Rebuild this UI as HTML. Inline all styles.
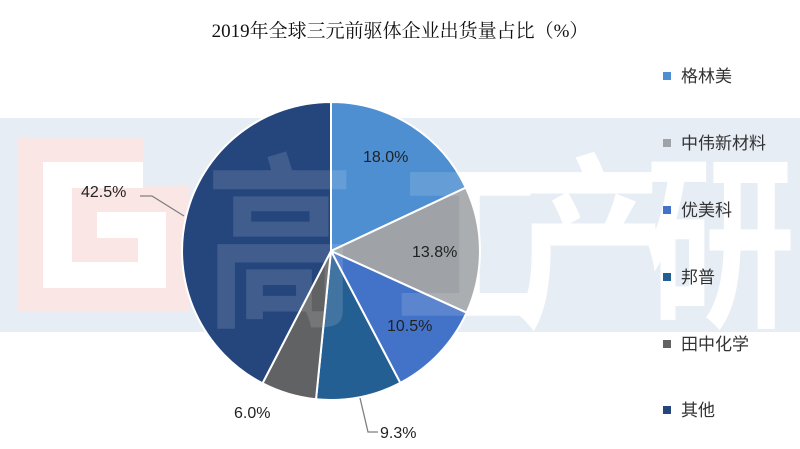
<!DOCTYPE html>
<html><head><meta charset="utf-8"><style>
body{margin:0;background:#fff;}
svg{display:block;font-family:"Liberation Sans","Noto Sans CJK SC",sans-serif;}
</style></head><body>
<svg width="800" height="449" viewBox="0 0 800 449">
<rect width="800" height="449" fill="#fff"/>
<rect x="0" y="118" width="800" height="214" fill="#e7edf4"/>
<!-- G logo -->
<rect x="17" y="138" width="126" height="174" fill="#fbe6e6"/>
<rect x="143" y="185" width="47" height="127" fill="#fbe6e6"/>
<g fill="#fff">
<rect x="43" y="162" width="100" height="26"/>
<rect x="43" y="188" width="29" height="100"/>
<rect x="72" y="262" width="94" height="26"/>
<rect x="138" y="212" width="28" height="50"/>
<rect x="97" y="212" width="41" height="26"/>
</g>
<!-- watermark behind pie -->
<g fill="#fff" font-size="150" font-weight="bold">
<text transform="translate(395,312) scale(1,1.25)">工</text>
<text transform="translate(515,312) scale(1,1.25)">产</text>
<text transform="translate(645,312) scale(1,1.25)">研</text>
</g>
<g stroke="#fff" stroke-width="2" stroke-linejoin="round">
<path d="M331 251 L331 102 A149 149 0 0 1 465.8 187.6 Z" fill="#4e8fd2"/>
<path d="M331 251 L465.8 187.6 A149 149 0 0 1 466.6 312.7 Z" fill="#9fa2a6"/>
<path d="M331 251 L466.6 312.7 A149 149 0 0 1 400.3 382.9 Z" fill="#4373c8"/>
<path d="M331 251 L400.3 382.9 A149 149 0 0 1 316.0 399.3 Z" fill="#245f93"/>
<path d="M331 251 L316.0 399.3 A149 149 0 0 1 262.5 383.3 Z" fill="#606264"/>
<path d="M331 251 L262.5 383.3 A149 149 0 0 1 331 102 Z" fill="#25457d"/>
</g>
<!-- faint watermark over pie -->
<g fill="#fff" opacity="0.13" font-size="150" font-weight="bold">
<text transform="translate(205,312) scale(1,1.25)">高</text>
<text transform="translate(395,312) scale(1,1.25)">工</text>
</g>
<polyline points="140,196 152,196 184,216" fill="none" stroke="#7f7f7f" stroke-width="1.3"/>
<polyline points="360,398 368,432 378,432" fill="none" stroke="#7f7f7f" stroke-width="1.3"/>
<g font-size="16" fill="#222">
<text x="363" y="162">18.0%</text>
<text x="412" y="257">13.8%</text>
<text x="387" y="331">10.5%</text>
<text x="81" y="197">42.5%</text>
<text x="234" y="418">6.0%</text>
<text x="380" y="438">9.3%</text>
</g>
<text x="400" y="37" text-anchor="middle" font-size="19" fill="#111" font-family="'Liberation Serif','Noto Serif CJK SC',serif">2019年全球三元前驱体企业出货量占比（%）</text>
<g font-size="17" fill="#333">
<rect x="663" y="72" width="8" height="8" fill="#4e8fd2"/><text x="681" y="82">格林美</text>
<rect x="663" y="139" width="8" height="8" fill="#9fa2a6"/><text x="681" y="149">中伟新材料</text>
<rect x="663" y="206" width="8" height="8" fill="#4373c8"/><text x="681" y="216">优美科</text>
<rect x="663" y="273" width="8" height="8" fill="#245f93"/><text x="681" y="283">邦普</text>
<rect x="663" y="340" width="8" height="8" fill="#606264"/><text x="681" y="350">田中化学</text>
<rect x="663" y="406" width="8" height="8" fill="#25457d"/><text x="681" y="416">其他</text>
</g>
</svg>
</body></html>
